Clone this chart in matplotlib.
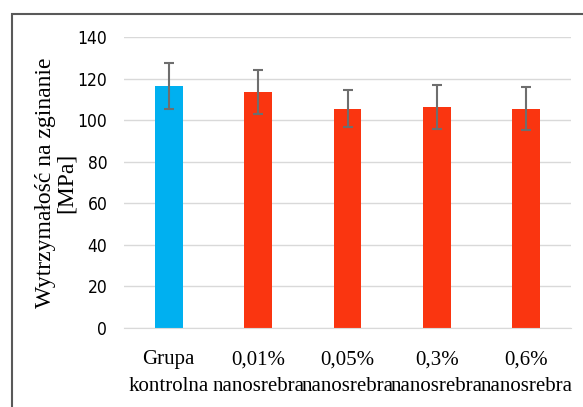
import matplotlib.pyplot as plt
import matplotlib.patches as patches

# data
categories = ["Grupa\nkontrolna", "0,01%\nnanosrebra", "0,05%\nnanosrebra",
              "0,3%\nnanosrebra", "0,6%\nnanosrebra"]
values = [116.5, 113.5, 105.5, 106.5, 105.5]
errors = [11.0, 10.7, 9.0, 10.6, 10.3]
colors = ["#00B0F0", "#FA3510", "#FA3510", "#FA3510", "#FA3510"]
yticks = [0, 20, 40, 60, 80, 100, 120, 140]

W, H = 583, 407
fig = plt.figure(figsize=(W / 100, H / 100), dpi=100)
ax = fig.add_axes([124 / W, 1 - 328 / H, (571 - 124) / W, (328 - 37) / H])

x = range(len(categories))
ax.bar(x, values, width=0.31, color=colors, zorder=2)
ax.errorbar(x, values, yerr=errors, fmt="none", ecolor="#6E6E6E",
            elinewidth=1.5, capsize=3.5, capthick=1.5, zorder=3)

ax.set_xlim(-0.5, len(categories) - 0.5)
ax.set_ylim(0, 140)
ax.set_yticks(yticks)
ax.set_yticklabels([str(v) for v in yticks], family="DejaVu Sans",
                   stretch="condensed", fontsize=12.5)
ax.set_xticks(list(x))
ax.set_xticklabels(categories, family="Liberation Serif", fontsize=15, linespacing=1.55)
ax.tick_params(axis="both", length=0, colors="#000000")
ax.tick_params(axis="x", pad=16)
ax.tick_params(axis="y", pad=12)
ax.grid(axis="y", color="#D9D9D9", linewidth=1, zorder=0)
for s in ["top", "right", "left"]:
    ax.spines[s].set_visible(False)
ax.spines["bottom"].set_color("#D9D9D9")

ax.set_ylabel("Wytrzymałość na zginanie\n[MPa]", family="Liberation Serif",
              fontsize=17, linespacing=1.0)
ax.yaxis.set_label_coords(-0.105, 0.5)

# outer chart border
fig.patches.append(patches.Rectangle((12 / W, -0.05), 1.1, 1.05 - 14 / H,
                                     transform=fig.transFigure, fill=False,
                                     edgecolor="#595959", linewidth=1.5))

fig.savefig("out.png", dpi=100)
